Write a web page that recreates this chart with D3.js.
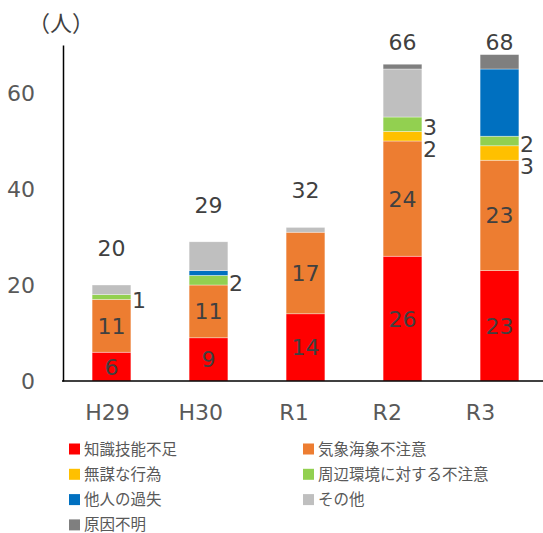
<!DOCTYPE html>
<html><head><meta charset="utf-8">
<script src="https://cdn.jsdelivr.net/npm/d3@7"></script>
<style>
body{margin:0;background:#fff}
text{font-family:"DejaVu Sans","Noto Sans CJK JP",sans-serif}
</style>
</head><body><svg id="c" width="543" height="533"></svg>
<script>
const years = ["H29","H30","R1","R2","R3"];
const seriesNames = ["知識技能不足","気象海象不注意","無謀な行為","周辺環境に対する不注意","他人の過失","その他","原因不明"];
const skillLack        = [6, 9, 14, 26, 23];
const weatherCareless  = [11, 11, 17, 24, 23];
const reckless         = [0, 0, 0, 2, 3];
const surroundCareless = [1, 2, 0, 3, 2];
const othersFault      = [0, 1, 0, 0, 14];
const otherCause       = [2, 6, 1, 10, 0];
const unknownCause     = [0, 0, 0, 1, 3];
const totals           = [20, 29, 32, 66, 68];
const yTicks = [0, 20, 40, 60];
const colors = ["#FF0000","#ED7D31","#FFC000","#92D050","#0070C0","#BFBFBF","#7F7F7F"];

const seriesValues = [skillLack, weatherCareless, reckless, surroundCareless, othersFault, otherCause, unknownCause];
const keys = seriesNames;
const table = years.map((y, i) => {
  const row = {year: y};
  keys.forEach((k, j) => row[k] = seriesValues[j][i]);
  return row;
});

const svg = d3.select("#c");
const x = d3.scaleBand().domain(years).range([63, 548]).paddingInner(0.6).paddingOuter(0.3);
const xLab = d3.scalePoint().domain(years).range([107, 480]);
const y = d3.scaleLinear().domain([0, 70]).range([381, 45]);
const color = d3.scaleOrdinal().domain(keys).range(colors);

const stack = d3.stack().keys(keys)(table);

// bars
svg.append("g").selectAll("g").data(stack).join("g")
  .attr("fill", d => color(d.key))
  .selectAll("rect").data(d => d).join("rect")
  .attr("x", d => x(d.data.year))
  .attr("width", x.bandwidth())
  .attr("y", d => y(d[1]))
  .attr("height", d => y(d[0]) - y(d[1]))
  .attr("stroke", "#fff").attr("stroke-width", 0.6).attr("stroke-opacity", 0.6);

// y axis
const yAxis = svg.append("g").attr("transform", "translate(63,0)")
  .call(d3.axisLeft(y).tickValues(yTicks).tickSize(0).tickPadding(28));
yAxis.select(".domain").attr("stroke", "#000").attr("stroke-width", 1.5);
yAxis.selectAll("text").attr("fill", "#595959").style("font-size", "22px");

// x axis
const xAxis = svg.append("g").attr("transform", "translate(0,381)")
  .call(d3.axisBottom(xLab).tickSize(0).tickPadding(23));
xAxis.select(".domain").remove();
xAxis.selectAll("text").attr("fill", "#595959").style("font-size", "22px");
svg.append("line").attr("x1", 62).attr("x2", 543).attr("y1", y(0)).attr("y2", y(0))
  .attr("stroke", "#000").attr("stroke-width", 1.5);

// inside labels (series 0,1)
const lab = svg.append("g").attr("fill", "#404040").style("font-size", "22px");
[0, 1].forEach(si => {
  stack[si].forEach(d => {
    if (d[1] - d[0] <= 0) return;
    lab.append("text").attr("x", x(d.data.year) + x.bandwidth() / 2)
      .attr("y", (y(d[0]) + y(d[1])) / 2).attr("dy", "0.36em")
      .attr("text-anchor", "middle").text(d[1] - d[0]);
  });
});
// outside labels (series 2,3)
years.forEach((yr, i) => {
  const items = [];
  [3, 2].forEach(si => {
    const d = stack[si][i];
    if (d[1] - d[0] > 0) items.push({v: d[1] - d[0], cy: (y(d[0]) + y(d[1])) / 2 + 3});
  });
  items.sort((a, b) => a.cy - b.cy);
  for (let k = 1; k < items.length; k++) {
    if (items[k].cy - items[k - 1].cy < 22) items[k].cy = items[k - 1].cy + 22;
  }
  items.forEach(it => {
    lab.append("text").attr("x", x(yr) + x.bandwidth() + 1).attr("y", it.cy)
      .attr("dy", "0.36em").attr("text-anchor", "start").text(it.v);
  });
});
// totals
years.forEach((yr, i) => {
  lab.append("text").attr("x", x(yr) + x.bandwidth() / 2)
    .attr("y", Math.max(y(totals[i]) - 37, 42)).attr("dy", "0.36em")
    .attr("text-anchor", "middle").text(totals[i]);
});

// unit
svg.append("text").attr("x", 61).attr("y", 23).attr("dy", "0.36em").attr("text-anchor", "middle")
  .attr("fill", "#404040").style("font-size", "22px").text("（人）");

// legend
const leg = svg.append("g");
keys.forEach((k, i) => {
  const col = i % 2, row = Math.floor(i / 2);
  const gx = col === 0 ? 69 : 303;
  const gy = 449 + row * 25.3;
  leg.append("rect").attr("x", gx).attr("y", gy - 5.5).attr("width", 11).attr("height", 11).attr("fill", color(k));
  leg.append("text").attr("x", gx + 15).attr("y", gy).attr("dy", "0.36em")
    .attr("fill", "#595959").style("font-size", "15.5px").text(k);
});
</script>
</body></html>
